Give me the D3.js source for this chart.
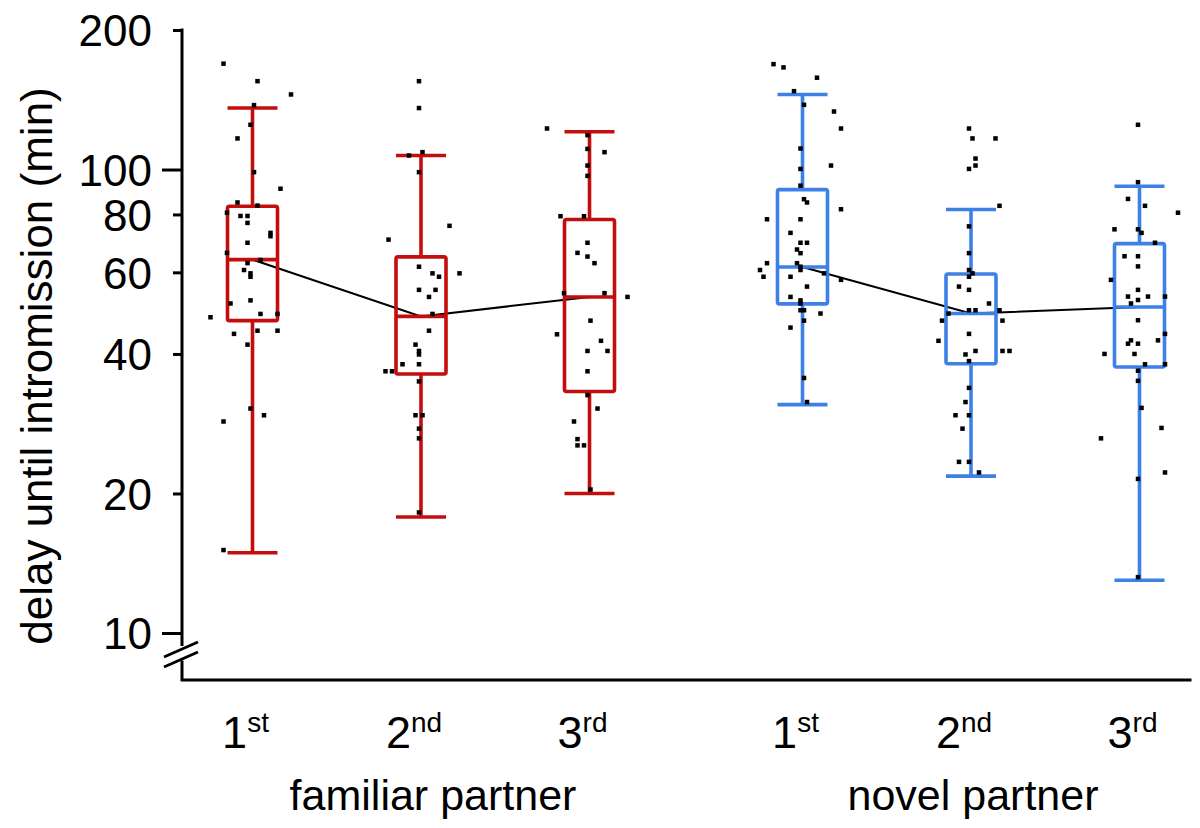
<!DOCTYPE html>
<html>
<head>
<meta charset="utf-8">
<script src="https://cdn.jsdelivr.net/npm/d3@7"></script>
<style>
  body { margin: 0; background: #fff; }
  svg text { font-family: "Liberation Sans", Arial, sans-serif; fill: #000; }
</style>
</head>
<body>
<svg width="1200" height="828"></svg>
<script>
// groups / orders on the x axis
const groups = ['familiar', 'novel'];
const groupLabels = ['familiar partner', 'novel partner'];
const orders = ['1st', '2nd', '3rd'];
const orderNum = ['1', '2', '3'];
const orderSup = ['st', 'nd', 'rd'];

// box statistics (min) per group, per order: [low whisker, q1, median, q3, high whisker]
const familiarBoxes = [
  [14.9, 47.2, 63.9, 83.3, 135.7],
  [17.8, 36.2, 48.2, 64.8, 107.2],
  [20.0, 33.2, 53.1, 78.0, 120.6]
];
const novelBoxes = [
  [31.1, 51.3, 61.6, 90.5, 145.2],
  [21.8, 38.1, 48.9, 59.5, 82.0],
  [13.0, 37.5, 50.5, 69.2, 92.0]
];

// individual observations: [value (min), jitter in box widths]
const familiar1 = [[169.2,-0.58],[155.1,0.10],[145.2,0.77],[137.7,0.03],[124.9,-0.04],[116.7,-0.30],[98.7,0.03],[90.9,0.56],[84.9,-0.30],[83.6,0.10],[80.7,-0.51],[79.4,-0.24],[79.4,-0.10],[76.7,-0.10],[73.0,0.36],[71.8,0.36],[69.5,-0.10],[66.1,-0.51],[63.8,0.16],[62.8,-0.10],[60.7,-0.17],[59.7,-0.04],[58.7,-0.04],[51.4,-0.44],[52.2,-0.04],[48.8,0.16],[48.8,0.50],[48.0,-0.84],[44.2,-0.37],[44.9,0.10],[44.9,0.50],[41.9,-0.10],[30.5,-0.04],[28.6,-0.58],[29.5,0.23],[15.1,-0.58]];
const familiar2 = [[155.1,-0.04],[135.7,-0.04],[107.2,-0.24],[109.0,0.03],[98.7,-0.04],[75.6,0.57],[70.6,-0.65],[61.7,-0.04],[59.7,0.23],[58.7,0.36],[59.7,0.77],[55.0,-0.04],[55.0,0.29],[53.1,0.16],[48.8,0.23],[44.9,0.16],[41.9,-0.11],[40.6,-0.04],[39.9,-0.04],[38.0,-0.37],[38.0,-0.04],[36.7,-0.71],[36.7,-0.58],[34.9,-0.04],[29.5,-0.11],[29.5,0.03],[27.6,-0.04],[26.3,-0.04],[18.2,-0.04]];
const familiar3 = [[122.6,-0.85],[118.6,-0.04],[110.8,-0.04],[109.0,0.30],[102.0,-0.04],[96.9,-0.04],[79.3,-0.58],[79.3,-0.11],[69.5,-0.04],[66.1,-0.24],[64.9,-0.04],[62.8,0.10],[54.1,-0.51],[54.1,0.30],[53.1,0.76],[47.2,0.02],[44.1,-0.65],[42.7,0.23],[40.6,-0.04],[40.6,0.36],[36.7,-0.04],[32.6,-0.04],[30.5,0.16],[28.6,-0.31],[26.2,-0.24],[25.4,-0.24],[25.4,-0.11],[20.4,0.02]];
const novel1 = [[168.8,-0.58],[166.1,-0.38],[157.8,0.29],[147.6,-0.17],[137.9,0.03],[133.4,0.63],[122.6,0.77],[111.0,-0.04],[102.0,0.57],[100.3,-0.04],[92.3,-0.04],[86.3,0.03],[84.9,0.09],[82.1,0.77],[78.1,-0.71],[78.1,-0.04],[73.0,-0.24],[69.5,-0.04],[69.5,0.09],[67.2,-0.11],[66.0,-0.04],[62.8,-0.71],[62.8,-0.11],[61.7,-0.04],[60.7,-0.04],[60.7,-0.85],[58.7,-0.78],[58.7,-0.24],[59.7,0.43],[57.8,0.77],[55.9,0.09],[53.1,-0.24],[52.2,-0.04],[51.4,-0.04],[49.7,-0.04],[49.7,0.03],[48.9,0.36],[47.2,0.03],[45.6,-0.24],[35.5,0.03],[31.5,0.09]];
const novel2 = [[122.6,-0.04],[116.7,0.03],[116.7,0.49],[105.6,0.09],[102.0,0.09],[100.3,-0.04],[83.5,0.57],[75.4,-0.04],[66.0,-0.04],[60.7,-0.04],[59.7,0.03],[58.7,-0.04],[55.9,-0.24],[55.0,-0.04],[51.4,0.36],[49.7,-0.04],[49.7,0.09],[49.7,0.57],[48.9,-0.45],[47.2,-0.58],[47.2,0.63],[44.2,-0.04],[42.7,-0.65],[40.6,0.09],[39.9,-0.11],[40.6,0.63],[40.6,0.77],[38.6,-0.04],[33.8,-0.04],[31.5,-0.11],[29.5,-0.31],[29.5,-0.04],[27.6,-0.17],[23.4,-0.24],[23.4,-0.04],[22.2,0.16]];
const novel3 = [[124.9,-0.03],[93.9,-0.03],[86.4,-0.23],[83.5,0.11],[80.7,0.77],[74.3,-0.50],[74.3,-0.03],[73.0,0.04],[69.5,0.31],[65.0,-0.30],[65.0,-0.03],[61.8,-0.03],[57.8,-0.57],[55.0,-0.03],[53.2,-0.23],[53.2,0.17],[53.2,0.51],[52.3,-0.03],[51.4,-0.17],[47.3,-0.03],[42.8,-0.17],[42.1,-0.23],[42.1,-0.03],[42.8,0.37],[44.2,0.51],[40.0,-0.70],[40.0,-0.10],[38.0,0.11],[38.0,0.51],[36.8,-0.03],[35.0,-0.03],[30.6,0.04],[27.7,0.44],[26.3,-0.77],[22.2,0.51],[21.5,-0.03],[13.2,-0.03]];

const yTicks = [10, 20, 40, 60, 80, 100, 200];
const yMajor = [10, 100];

const boxes = { familiar: familiarBoxes, novel: novelBoxes };
const points = { familiar: [familiar1, familiar2, familiar3], novel: [novel1, novel2, novel3] };
const colors = { familiar: '#c40d0d', novel: '#3d80e6' };
const labelShift = { familiar: 12, novel: 2 };

let svg = d3.select('svg');

let axisX = 182, axisBottom = 680;
let boxW = 50;

let y = d3.scaleLog().domain([10, 200]).range([633, 30]);
let xGroup = d3.scalePoint().domain(groups).range([421, 971]);
let xOrder = d3.scalePoint().domain(orders).range([-168.5, 168.5]);

function cx(g, i) {
    return xGroup(g) + xOrder(orders[i]);
}

// y axis (ticks + labels), domain drawn by hand for the break
let yAxis = svg.append('g')
    .attr('transform', 'translate(' + axisX + ',0)')
    .call(d3.axisLeft(y).tickValues(yTicks).tickSize(9).tickPadding(21).tickFormat(d3.format('d')));
yAxis.select('.domain').remove();
yAxis.selectAll('.tick line')
    .attr('stroke', '#000')
    .attr('stroke-width', 3)
    .attr('x2', function (d) { return yMajor.indexOf(d) >= 0 ? -20 : -9; });
yAxis.selectAll('.tick text')
    .attr('font-size', 44)
    .attr('dy', '0.36em')
    .style('font-family', '"Liberation Sans", Arial, sans-serif');

svg.append('line')
    .attr('x1', axisX).attr('x2', axisX)
    .attr('y1', y(200) - 1.5).attr('y2', 646)
    .attr('stroke', '#000').attr('stroke-width', 3);
svg.append('path')
    .attr('d', 'M' + axisX + ',662V' + axisBottom + 'H1190')
    .attr('fill', 'none')
    .attr('stroke', '#000').attr('stroke-width', 3)
    .attr('stroke-linecap', 'square');
// break marks
svg.append('path')
    .attr('d', 'M164,657L198,642M164,667L198,652')
    .attr('stroke', '#000').attr('stroke-width', 3)
    .attr('fill', 'none');

// y title
svg.append('text')
    .attr('transform', 'translate(52,366)rotate(-90)')
    .attr('text-anchor', 'middle')
    .attr('font-size', 44)
    .text('delay until intromission (min)');

// median lines connecting boxes in each group
groups.forEach(function (g) {
    svg.append('path')
        .datum(boxes[g])
        .attr('fill', 'none')
        .attr('stroke', '#000')
        .attr('stroke-width', 2)
        .attr('d', d3.line()
            .x(function (d, i) { return cx(g, i); })
            .y(function (d) { return y(d[2]); }));
});

// boxes and whiskers
groups.forEach(function (g) {
    boxes[g].forEach(function (b, i) {
        let c = cx(g, i);
        let bx = svg.append('g')
            .attr('stroke', colors[g])
            .attr('stroke-width', 3.6)
            .attr('fill', 'none');
        bx.append('line').attr('x1', c).attr('x2', c).attr('y1', y(b[4])).attr('y2', y(b[3]));
        bx.append('line').attr('x1', c).attr('x2', c).attr('y1', y(b[1])).attr('y2', y(b[0]));
        bx.append('line').attr('x1', c - boxW / 2).attr('x2', c + boxW / 2).attr('y1', y(b[4])).attr('y2', y(b[4]));
        bx.append('line').attr('x1', c - boxW / 2).attr('x2', c + boxW / 2).attr('y1', y(b[0])).attr('y2', y(b[0]));
        bx.append('rect')
            .attr('x', c - boxW / 2).attr('width', boxW)
            .attr('y', y(b[3])).attr('height', y(b[1]) - y(b[3]))
            .attr('rx', 2);
        bx.append('line').attr('x1', c - boxW / 2).attr('x2', c + boxW / 2).attr('y1', y(b[2])).attr('y2', y(b[2]));
    });
});

// jittered observations
groups.forEach(function (g) {
    points[g].forEach(function (pts, i) {
        svg.append('g').selectAll('rect')
            .data(pts)
            .enter().append('rect')
            .attr('x', function (d) { return cx(g, i) + d[1] * boxW - 2.25; })
            .attr('y', function (d) { return y(d[0]) - 2.25; })
            .attr('width', 4.5)
            .attr('height', 4.5)
            .attr('fill', '#000');
    });
});

// x labels
groups.forEach(function (g, gi) {
    orders.forEach(function (o, i) {
        let t = svg.append('text')
            .attr('x', cx(g, i) - 7)
            .attr('y', 748)
            .attr('text-anchor', 'middle')
            .attr('font-size', 45);
        t.append('tspan').text(orderNum[i]);
        t.append('tspan').attr('font-size', 28).attr('dy', -16).text(orderSup[i]);
    });
    svg.append('text')
        .attr('x', xGroup(g) + labelShift[g])
        .attr('y', 810)
        .attr('text-anchor', 'middle')
        .attr('font-size', 43)
        .text(groupLabels[gi]);
});
</script>
</body>
</html>
